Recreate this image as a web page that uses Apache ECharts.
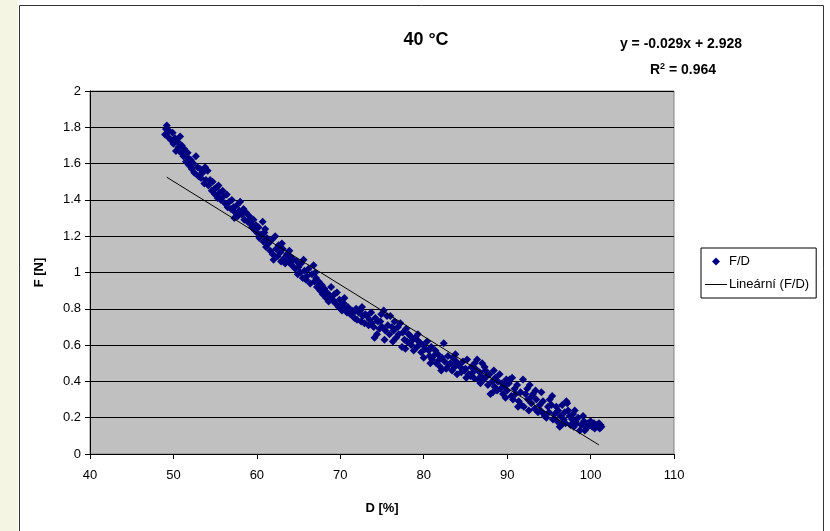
<!DOCTYPE html>
<html>
<head>
<meta charset="utf-8">
<script src="https://cdn.jsdelivr.net/npm/echarts@6/dist/echarts.min.js"></script>
<style>
html,body{margin:0;padding:0;background:#fff;}
#c{width:830px;height:531px;}
</style>
</head>
<body>
<div id="c"></div>
<script>
const chartTitle = '40 °C';
const xTicks = {min: 40, max: 110, interval: 10};
const yTicks = {min: 0, max: 2, interval: 0.2};
const seriesName = 'F/D';
const trendName = 'Lineární (F/D)';
const equationText = 'y = -0.029x + 2.928';
const r2Text = '0.964';
// trendline endpoints (D, F)
const trendD = [49.2, 101];
const trendF = [1.525, 0.05];
// measured points [D %, F N]
const forceDeformation = [
[49.0,1.76],[49.1,1.79],[49.2,1.81],[49.3,1.75],[49.5,1.78],[49.7,1.73],[49.9,1.77],
[50.0,1.71],[50.2,1.74],[50.3,1.67],[50.5,1.72],[50.6,1.69],[50.8,1.75],[50.9,1.66],
[51.0,1.70],[51.2,1.64],[51.3,1.68],[51.5,1.61],[51.7,1.66],[51.8,1.63],[51.9,1.59],
[52.1,1.62],[52.2,1.57],[52.4,1.60],[52.5,1.55],[52.7,1.64],[52.9,1.58],
[53.0,1.53],[53.2,1.57],[53.3,1.52],[53.5,1.55],[53.7,1.49],[53.8,1.58],[53.9,1.51],
[54.1,1.56],[54.2,1.48],[54.4,1.51],[54.6,1.45],[54.7,1.50],[54.9,1.46],
[55.0,1.43],[55.2,1.47],[55.3,1.41],[55.5,1.44],[55.7,1.40],[55.9,1.45],
[56.0,1.42],[56.2,1.38],[56.4,1.43],[56.5,1.36],[56.7,1.39],[56.9,1.35],
[57.0,1.40],[57.2,1.36],[57.4,1.33],[57.6,1.37],[57.7,1.31],[57.9,1.34],
[58.0,1.39],[58.2,1.32],[58.4,1.35],[58.5,1.29],[58.7,1.33],[58.9,1.28],
[59.1,1.31],[59.2,1.27],[59.4,1.25],[59.6,1.29],[59.8,1.23],[59.9,1.26],
[60.0,1.22],[60.2,1.25],[60.3,1.19],[60.5,1.21],[60.7,1.28],[60.8,1.17],[60.9,1.22],
[61.1,1.14],[61.2,1.19],[61.4,1.16],[61.6,1.12],[61.8,1.18],[61.9,1.10],
[62.0,1.07],[62.2,1.20],[62.3,1.13],[62.5,1.09],[62.6,1.15],[62.8,1.11],[62.9,1.06],
[63.1,1.13],[63.3,1.08],[63.4,1.05],[63.6,1.10],[63.8,1.06],[63.9,1.12],
[64.0,1.09],[64.2,1.04],[64.4,1.07],[64.6,1.02],[64.8,1.06],[64.9,0.99],
[65.0,1.03],[65.2,1.00],[65.3,1.05],[65.5,0.97],[65.7,1.01],[65.9,0.96],
[66.0,0.98],[66.2,1.02],[66.4,0.94],[66.6,0.99],[66.8,1.04],[66.9,0.95],
[67.1,0.97],[67.2,0.92],[67.4,0.95],[67.6,0.90],[67.8,0.93],[67.9,0.88],
[68.1,0.91],[68.3,0.86],[68.4,0.89],[68.6,0.84],[68.8,0.87],[68.9,0.92],
[69.1,0.85],[69.3,0.88],[69.4,0.83],[69.6,0.89],[69.8,0.81],[69.9,0.85],
[70.1,0.82],[70.2,0.79],[70.4,0.83],[70.6,0.80],[70.8,0.78],[70.9,0.81],
[71.0,0.80],[71.2,0.77],[71.4,0.79],[71.6,0.78],[71.7,0.75],[71.9,0.80],
[72.0,0.74],[72.2,0.78],[72.4,0.79],[72.5,0.73],[72.7,0.76],[72.9,0.72],
[73.0,0.77],[73.2,0.76],[73.4,0.71],[73.5,0.74],[73.7,0.78],[73.8,0.72],
[74.0,0.70],[74.2,0.75],[74.4,0.66],[74.5,0.73],[74.7,0.69],[74.8,0.73],[74.9,0.77],
[75.0,0.70],[75.2,0.79],[75.3,0.63],[75.4,0.68],[75.6,0.76],[75.7,0.71],[75.9,0.66],
[76.0,0.76],[76.2,0.70],[76.4,0.68],[76.5,0.73],[76.7,0.64],[76.9,0.70],
[77.0,0.66],[77.2,0.72],[77.4,0.59],[77.5,0.67],[77.7,0.63],[77.9,0.69],
[78.0,0.62],[78.2,0.66],[78.4,0.65],[78.5,0.60],[78.7,0.63],[78.8,0.57],
[79.0,0.64],[79.2,0.59],[79.4,0.62],[79.6,0.61],[79.7,0.56],[79.9,0.60],
[80.0,0.53],[80.2,0.58],[80.4,0.62],[80.6,0.57],[80.7,0.54],[80.9,0.59],
[81.0,0.52],[81.2,0.54],[81.4,0.57],[81.5,0.50],[81.7,0.55],[81.9,0.52],
[82.0,0.48],[82.2,0.53],[82.4,0.61],[82.5,0.51],[82.7,0.47],[82.9,0.54],
[83.0,0.49],[83.2,0.50],[83.4,0.46],[83.5,0.53],[83.7,0.48],[83.9,0.51],
[84.0,0.44],[84.2,0.49],[84.4,0.48],[84.5,0.45],[84.7,0.51],[84.9,0.46],
[85.0,0.47],[85.2,0.52],[85.4,0.44],[85.6,0.43],[85.7,0.48],[85.9,0.45],
[86.0,0.42],[86.2,0.47],[86.4,0.52],[86.5,0.41],[86.7,0.45],[86.8,0.39],[86.9,0.43],
[87.0,0.50],[87.2,0.41],[87.4,0.46],[87.6,0.43],[87.7,0.38],[87.9,0.44],
[88.0,0.33],[88.2,0.40],[88.4,0.46],[88.5,0.37],[88.6,0.42],[88.8,0.35],[88.9,0.40],
[89.1,0.44],[89.2,0.36],[89.4,0.39],[89.5,0.33],[89.7,0.37],[89.9,0.41],
[90.0,0.35],[90.2,0.39],[90.3,0.41],[90.5,0.32],[90.7,0.30],[90.9,0.36],
[91.0,0.33],[91.2,0.38],[91.4,0.29],[91.6,0.34],[91.7,0.27],[91.9,0.41],
[92.0,0.26],[92.2,0.33],[92.4,0.36],[92.5,0.30],[92.7,0.38],[92.9,0.28],
[93.0,0.32],[93.1,0.33],[93.3,0.25],[93.5,0.30],[93.7,0.23],[93.9,0.27],
[94.0,0.24],[94.1,0.34],[94.3,0.29],[94.5,0.21],[94.7,0.20],[94.9,0.26],
[95.0,0.23],[95.1,0.30],[95.3,0.27],[95.5,0.19],[95.7,0.22],[95.9,0.26],
[96.0,0.18],[96.1,0.24],[96.3,0.15],[96.4,0.21],[96.6,0.27],[96.8,0.19],[96.9,0.23],
[97.0,0.17],[97.1,0.29],[97.3,0.24],[97.5,0.21],[97.6,0.16],[97.8,0.19],[97.9,0.22],
[98.0,0.15],[98.2,0.18],[98.3,0.17],[98.5,0.20],[98.7,0.13],[98.9,0.16],
[99.1,0.21],[99.2,0.18],[99.4,0.15],[99.5,0.14],[99.7,0.17],[99.9,0.16],
[100.0,0.18],[100.2,0.15],[100.4,0.17],[100.5,0.14],[100.7,0.16],[100.9,0.15],
[101.0,0.17],[101.1,0.14],[101.2,0.16],[101.3,0.15],
[55.4,1.48],[57.3,1.30],[61.0,1.24],[63.0,1.16],[65.6,1.07],[67.0,1.00],
[70.5,0.86],[72.6,0.81],[74.1,0.64],[76.3,0.62],[77.8,0.58],[79.3,0.66],
[80.8,0.50],[82.1,0.46],[83.8,0.55],[85.1,0.42],[86.1,0.50],[87.3,0.48],
[88.3,0.34],[89.8,0.31],[90.6,0.42],[91.3,0.26],[92.6,0.24],[93.4,0.35],
[94.4,0.22],[95.4,0.32],[96.5,0.16],[97.2,0.28],[98.1,0.24],[99.3,0.13]
];

const FONT = '"Liberation Sans", Arial, sans-serif';
const chart = echarts.init(document.getElementById('c'), null, {renderer: 'canvas'});
const trendData = trendD.map((d, i) => [d, trendF[i]]);

chart.setOption({
  animation: false,
  backgroundColor: '#ffffff',
  title: {
    text: chartTitle,
    left: 421, top: 26, textAlign: 'center',
    textStyle: {fontFamily: FONT, fontSize: 18, fontWeight: 'bold', color: '#000'}
  },
  grid: {
    left: 90, right: 156, top: 91, bottom: 77,
    show: true, backgroundColor: '#C0C0C0', borderColor: '#808080', borderWidth: 1
  },
  legend: {
    orient: 'vertical',
    left: 701, top: 248,
    padding: [7, 7, 7, 4],
    itemGap: 10,
    itemWidth: 22, itemHeight: 8,
    borderColor: '#000', borderWidth: 1,
    backgroundColor: '#fff',
    textStyle: {fontFamily: FONT, fontSize: 13, color: '#000', padding: [0, 0, 0, -3]},
    data: [
      {name: seriesName, icon: 'path://M5,0 L10,5 L5,10 L0,5 Z', itemStyle: {color: '#000080'}},
      {name: trendName, icon: 'path://M0,0 L22,0 L22,1 L0,1 Z', itemStyle: {color: '#000'}}
    ]
  },
  xAxis: {
    type: 'value',
    min: xTicks.min, max: xTicks.max, interval: xTicks.interval,
    name: 'D [%]', nameLocation: 'middle', nameGap: 48,
    nameTextStyle: {fontFamily: FONT, fontSize: 13, fontWeight: 'bold', color: '#000'},
    axisLine: {show: true, onZero: false, lineStyle: {color: '#000', width: 1}},
    axisTick: {show: true, inside: false, length: 5, lineStyle: {color: '#000'}},
    axisLabel: {fontFamily: FONT, fontSize: 13, color: '#000', margin: 15},
    splitLine: {show: false}
  },
  yAxis: {
    type: 'value',
    min: yTicks.min, max: yTicks.max, interval: yTicks.interval,
    name: 'F [N]', nameLocation: 'middle', nameGap: 44,
    nameTextStyle: {fontFamily: FONT, fontSize: 13, fontWeight: 'bold', color: '#000'},
    axisLine: {show: true, onZero: false, lineStyle: {color: '#000', width: 1}},
    axisTick: {show: true, inside: false, length: 5, lineStyle: {color: '#000'}},
    axisLabel: {fontFamily: FONT, fontSize: 13, color: '#000', margin: 9},
    splitLine: {show: true, lineStyle: {color: '#000', width: 1}}
  },
  series: [
    {
      name: seriesName,
      type: 'scatter',
      data: forceDeformation,
      symbol: 'diamond',
      symbolSize: 8,
      itemStyle: {color: '#000080', opacity: 1},
      z: 3
    },
    {
      name: trendName,
      type: 'line',
      data: trendData,
      showSymbol: false,
      symbol: 'none',
      lineStyle: {color: '#000', width: 1},
      z: 4
    }
  ],
  graphic: [
    {type: 'rect', shape: {x: 0, y: 0, width: 18, height: 531}, style: {fill: '#F5F5E4'}, z: -1, silent: true},
    {type: 'rect', shape: {x: 19.5, y: 5.5, width: 804, height: 540}, style: {fill: null, stroke: '#333', lineWidth: 1}, z: 10, silent: true},
    {
      type: 'text', x: 681, y: 44, z: 10,
      style: {
        text: equationText, align: 'center', verticalAlign: 'middle',
        font: 'bold 14px ' + FONT, fill: '#000'
      }
    },
    {
      type: 'text', x: 683, y: 70, z: 10,
      style: {
        text: '{r|R}{s|2}{r| = ' + r2Text + '}', align: 'center', verticalAlign: 'middle',
        rich: {
          r: {font: 'bold 14px ' + FONT, fill: '#000', verticalAlign: 'bottom'},
          s: {font: 'bold 9px ' + FONT, fill: '#000', verticalAlign: 'top', padding: [0, 0, 6, 0]}
        }
      }
    }
  ]
});
</script>
</body>
</html>
